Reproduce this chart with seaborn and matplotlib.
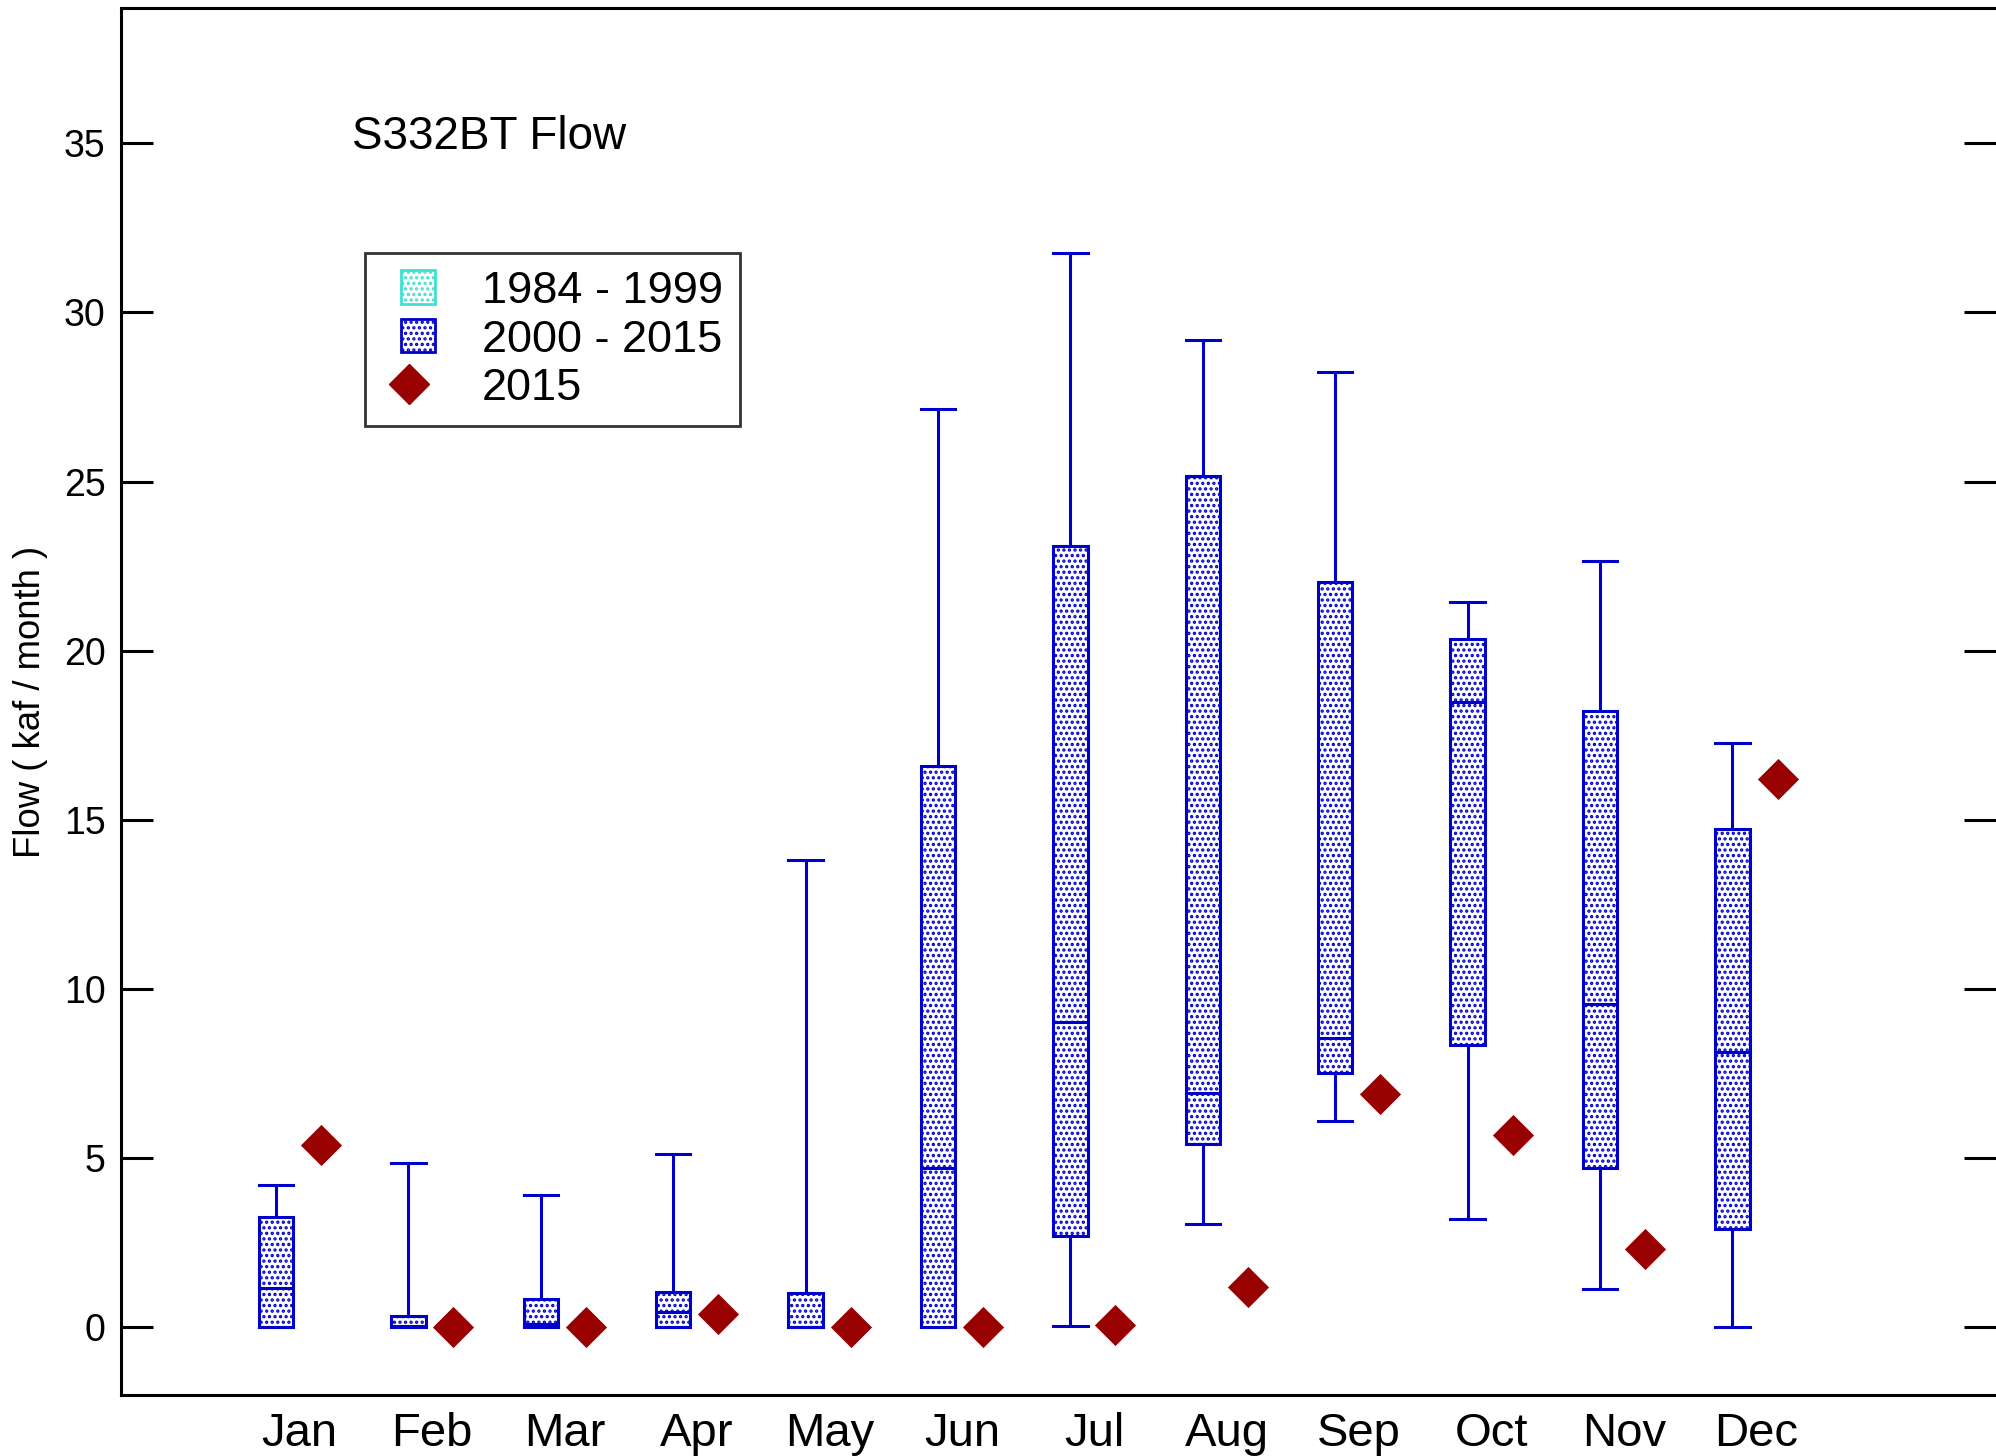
import numpy as np
import pandas as pd
import matplotlib
matplotlib.use("Agg")
import matplotlib.pyplot as plt
import seaborn as sns
from matplotlib.patches import Patch, Rectangle
from matplotlib.lines import Line2D
from matplotlib.legend_handler import HandlerPatch

# data (kaf / month)
MONTHS   = ["Jan", "Feb", "Mar", "Apr", "May", "Jun",
            "Jul", "Aug", "Sep", "Oct", "Nov", "Dec"]
WHISK_LO = [0.0, 0.0, 0.0, 0.0, 0.0, 0.0, 0.05, 3.05, 6.1, 3.2, 1.13, 0.0]
Q1       = [0.0, 0.0, 0.05, 0.0, 0.0, 0.0, 2.71, 5.42, 7.53, 8.36, 4.7, 2.9]
MEDIAN   = [1.17, 0.05, 0.1, 0.45, 0.02, 4.7, 9.03, 6.92, 8.54, 18.48, 9.56, 8.13]
Q3       = [3.27, 0.34, 0.83, 1.05, 1.02, 16.6, 23.1, 25.18, 22.02, 20.36, 18.22, 14.72]
WHISK_HI = [4.2, 4.85, 3.91, 5.12, 13.81, 27.14, 31.77, 29.2, 28.23, 21.45, 22.66, 17.27]
FLOW_2015 = [5.38, 0.0, 0.0, 0.38, 0.0, 0.0, 0.08, 1.2, 6.89, 5.68, 2.33, 16.22]

BLUE = "#0000CC"
CYAN = "#40E0D0"
DARKRED = "#990000"
BOX_OFFSET = -0.18
PT_OFFSET = 0.16

plt.rcParams["font.family"] = ["Liberation Sans", "DejaVu Sans"]
plt.rcParams["hatch.linewidth"] = 1.6

# five values per month -> 25/50/75 percentiles land exactly on Q1/median/Q3
rows = []
for i in range(len(MONTHS)):
    for v in (WHISK_LO[i], Q1[i], MEDIAN[i], Q3[i], WHISK_HI[i]):
        rows.append({"pos": i + BOX_OFFSET, "flow": v})
box_df = pd.DataFrame(rows)

pt_df = pd.DataFrame({"pos": np.arange(len(MONTHS)) + PT_OFFSET,
                      "flow": FLOW_2015})

fig = plt.figure(figsize=(19.96, 14.56), dpi=100)
ax = fig.add_axes([0.0606, 0.0419, 0.9394, 0.9526])

sns.boxplot(data=box_df, x="pos", y="flow", native_scale=True, orient="x",
            whis=(0, 100), width=0.26, color="white", linecolor=BLUE,
            linewidth=2.2, fliersize=0, capwidths=0.26, ax=ax)
for p in ax.patches:
    p.set_hatch("...")
    p.set_edgecolor(BLUE)
    p.set_facecolor("white")

sns.scatterplot(data=pt_df, x="pos", y="flow", marker="D", s=440,
                color=DARKRED, edgecolor=DARKRED, linewidth=0, ax=ax,
                zorder=5)

ax.set_xlim(-1.35, 12.81)
ax.set_ylim(-2, 39)
ax.set_xticks(np.arange(len(MONTHS)))
ax.set_xticklabels(MONTHS)
ax.set_yticks(np.arange(0, 36, 5))
ax.set_xlabel("")
ax.set_ylabel("Flow ( kaf / month )", fontsize=26.3)
ax.yaxis.set_label_coords(-0.039, 0.5)

ax.tick_params(axis="x", length=0, labelsize=34, pad=12)
ax.tick_params(axis="y", direction="in", length=23, width=2.2,
               labelsize=27, pad=11, left=True, right=True)
for side in ("left", "top", "bottom"):
    ax.spines[side].set_linewidth(2.2)
    ax.spines[side].set_color("black")
ax.spines["right"].set_visible(False)

ax.text(0.123, 0.907, "S332BT Flow", transform=ax.transAxes,
        fontsize=33, va="center", ha="left")


# small square legend swatch, pushed to the right part of the handle box
def square_swatch(legend, orig_handle, xdescent, ydescent,
                  width, height, fontsize):
    return Rectangle((-xdescent + width - height, -ydescent), height, height)


handles = [
    Patch(facecolor="white", edgecolor=CYAN, hatch="...", linewidth=2),
    Patch(facecolor="white", edgecolor=BLUE, hatch="...", linewidth=2),
    Line2D([], [], marker="D", color=DARKRED, linestyle="", markersize=20),
]
leg = fig.legend(handles, ["1984 - 1999", "2000 - 2015", "2015"],
                 loc="upper left", bbox_to_anchor=(0.183, 0.826),
                 fontsize=32.5, frameon=True, fancybox=False,
                 borderaxespad=0, handlelength=1.16, handleheight=0.76,
                 handletextpad=1.05, labelspacing=0.16, borderpad=0.38,
                 handler_map={Patch: HandlerPatch(patch_func=square_swatch)})
leg.get_frame().set_edgecolor("black")
leg.get_frame().set_linewidth(2)

fig.savefig("out.png", dpi=100)
